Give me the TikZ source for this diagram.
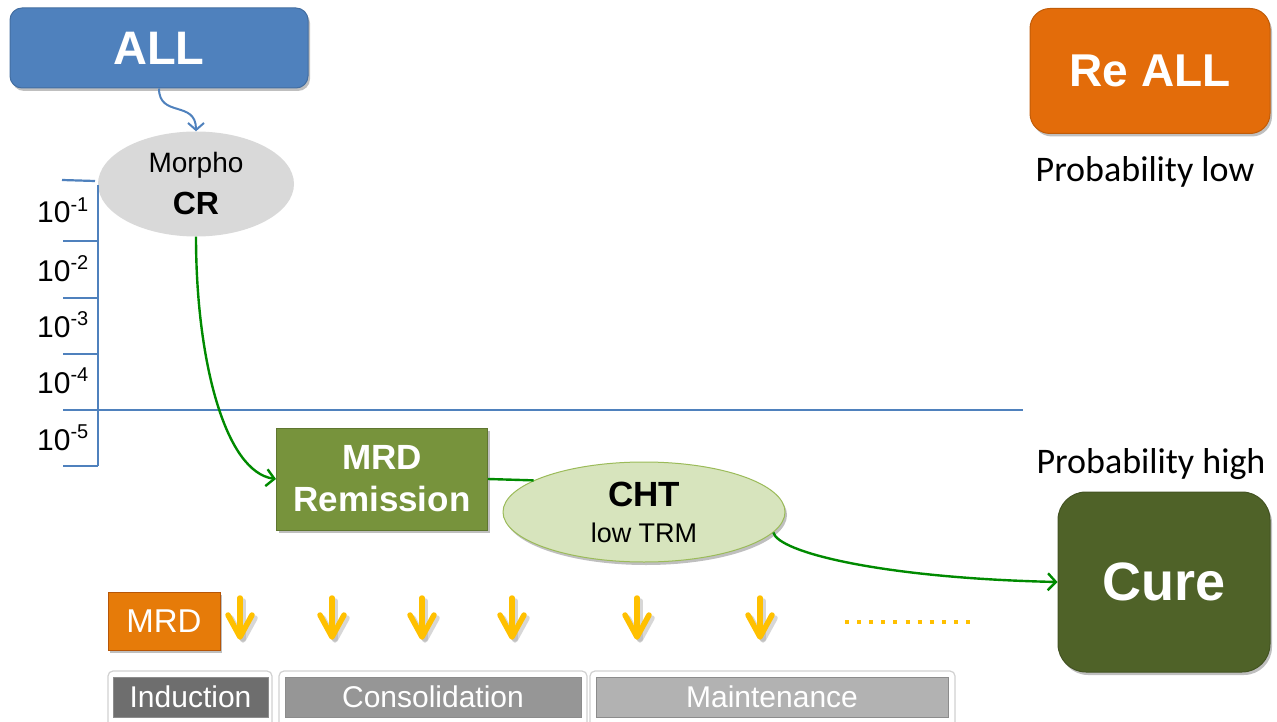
\documentclass[tikz,border=0pt]{standalone}
\usepackage{fontspec}
\setmainfont{Liberation Sans}
\newfontfamily\calib{Carlito}
\usetikzlibrary{arrows.meta,shapes.geometric,shadows,calc}
\definecolor{allblue}{HTML}{4F81BD}
\definecolor{reorange}{HTML}{E36C0A}
\definecolor{mrdgreen}{HTML}{77933C}
\definecolor{chtfill}{HTML}{D7E4BD}
\definecolor{chtdraw}{HTML}{9BBB59}
\definecolor{curegreen}{HTML}{4F6228}
\definecolor{goldy}{HTML}{FFC000}
\definecolor{linkgreen}{HTML}{008A00}
\definecolor{axisblue}{HTML}{4F81BD}
\definecolor{morphogray}{HTML}{D9D9D9}
\begin{document}
\begin{tikzpicture}[x=1pt,y=-1pt,
  shadowed/.style={drop shadow={shadow xshift=2pt,shadow yshift=-3pt,fill=black,opacity=0.25}},
  allbox/.style={rectangle,rounded corners=12pt,fill=allblue,draw=allblue!85!black,line width=1pt,
    minimum width=298pt,minimum height=80pt,inner sep=0pt,text=white,
    font=\fontsize{47}{50}\selectfont\bfseries,shadowed},
  rebox/.style={rectangle,rounded corners=20pt,fill=reorange,draw=reorange!85!black,line width=1pt,
    minimum width=240pt,minimum height=125pt,inner sep=0pt,text=white,
    font=\fontsize{46}{50}\selectfont\bfseries,shadowed},
  curebox/.style={rectangle,rounded corners=28pt,fill=curegreen,draw=curegreen!85!black,line width=1pt,
    minimum width=212pt,minimum height=180pt,inner sep=0pt,text=white,
    font=\fontsize{54}{58}\selectfont\bfseries,shadowed},
  remisbox/.style={rectangle,fill=mrdgreen,draw=mrdgreen!80!black,line width=1pt,
    minimum width=211pt,minimum height=102pt,inner sep=0pt,text=white,align=center,
    font=\fontsize{35}{42}\selectfont\bfseries,shadowed},
  mrdtag/.style={rectangle,fill=reorange!90!yellow,draw=reorange!80!black,line width=0.8pt,
    minimum width=112pt,minimum height=58pt,inner sep=0pt,text=white,
    font=\fontsize{33}{36}\selectfont,shadowed},
  morphoell/.style={ellipse,fill=morphogray,minimum width=196pt,minimum height=105pt,inner sep=0pt,
    align=center,font=\fontsize{28}{42}\selectfont},
  chtell/.style={ellipse,fill=chtfill,draw=chtdraw,line width=1pt,minimum width=282pt,minimum height=100pt,
    inner sep=0pt,align=center,font=\fontsize{27}{36}\selectfont,shadowed},
  phaseframe/.style={rectangle,rounded corners=5pt,fill=white,draw=black!18,line width=1.2pt},
  phasebar/.style={rectangle,draw=black!45,line width=0.8pt,inner sep=0pt,minimum height=40pt,
    text=white,font=\fontsize{30}{32}\selectfont},
  problabel/.style={anchor=base,font=\calib\fontsize{36}{40}\selectfont},
  explabel/.style={anchor=base west,inner sep=0pt,font=\fontsize{30}{32}\selectfont},
  axisline/.style={draw=axisblue,line width=2.2pt},
  greenlink/.style={draw=linkgreen,line width=2.4pt,-{Straight Barb[length=8pt,width=17pt]}},
  goldarrow/.style={draw=goldy,line width=5.5pt,line cap=round,line join=round},
  goldshadow/.style={draw=black!35,opacity=0.45,line width=5.5pt,line cap=round,line join=round}
]
\useasboundingbox (0,0) rectangle (1277,722);
\clip (0,0) rectangle (1277,722);

% top boxes
\node[allbox] (all) at (159,48) {ALL};
\node[rebox] (reall) at (1150,71) {Re ALL};
\node[problabel] (plow) at (1145,182) {Probability low};

% Morpho CR
\node[morphoell] (morpho) at (196,184)
  {Morpho\\{\fontsize{32}{42}\selectfont\bfseries CR}};

\draw[draw=allblue,line width=2pt,-{Straight Barb[length=7pt,width=16pt]}]
  (all.south) .. controls (159,118) and (196,100) .. (morpho.north);

% axis
\coordinate (axtop) at (98,185);
\coordinate (axbot) at (98,466);
\draw[axisline] (axtop) -- (axbot);
\foreach \yy in {241,298,354,466} {\draw[axisline] (63,\yy) -- (98,\yy);}
\draw[axisline] (62,180) -- (95,181);
\draw[draw=axisblue,line width=1.6pt] (63,410) -- (1023,410);

\node[explabel] (e1) at (37,223) {10\raisebox{12pt}{\fontsize{20}{22}\selectfont -1}};
\node[explabel] (e2) at (37,281) {10\raisebox{12pt}{\fontsize{20}{22}\selectfont -2}};
\node[explabel] (e3) at (37,337) {10\raisebox{12pt}{\fontsize{20}{22}\selectfont -3}};
\node[explabel] (e4) at (37,393) {10\raisebox{12pt}{\fontsize{20}{22}\selectfont -4}};
\node[explabel] (e5) at (37,450) {10\raisebox{12pt}{\fontsize{20}{22}\selectfont -5}};

% MRD remission and CHT
\node[remisbox] (remis) at (382,479) {MRD\\Remission};
\node[chtell] (cht) at (644,512)
  {{\fontsize{35}{36}\selectfont\bfseries CHT}\\low TRM};
\draw[draw=linkgreen,line width=2.4pt] (remis.east) -- (cht.164);

\draw[greenlink] (morpho.south) .. controls (196,360) and (225,472) .. (remis.west);

% Cure
\node[curebox] (cure) at (1164,582) {Cure};
\node[problabel] (phigh) at (1151,473) {Probability high};
\draw[greenlink] (cht.-9) .. controls (778,552) and (880,578) .. (cure.west);

% MRD tag and gold arrows
\node[mrdtag] (mrd) at (164,621) {MRD};
\foreach \xx in {240,332,422,512,637,760} {
  \draw[goldshadow] (\xx+3,601) -- (\xx+3,639);
  \draw[goldshadow] (\xx-9,618) -- (\xx+3,640) -- (\xx+15,618);
  \draw[goldarrow] (\xx,598) -- (\xx,636);
  \draw[goldarrow] (\xx-12,615) -- (\xx,637) -- (\xx+12,615);
}
\coordinate (dotsA) at (845,622);
\coordinate (dotsB) at (978,622);
\draw[draw=goldy,line width=4pt,dash pattern=on 4pt off 8.1pt] (dotsA) -- (dotsB);

% phases
\draw[phaseframe] (108,671) rectangle (272,730);
\draw[phaseframe] (279,671) rectangle (587,730);
\draw[phaseframe] (590,671) rectangle (955,730);
\node[phasebar,fill=black!57,minimum width=155pt] (ind) at (190.5,697) {Induction};
\node[phasebar,fill=black!41,minimum width=296pt] (cons) at (433,697) {Consolidation};
\node[phasebar,fill=black!30,minimum width=352pt] (maint) at (772,697) {Maintenance};
\end{tikzpicture}
\end{document}
